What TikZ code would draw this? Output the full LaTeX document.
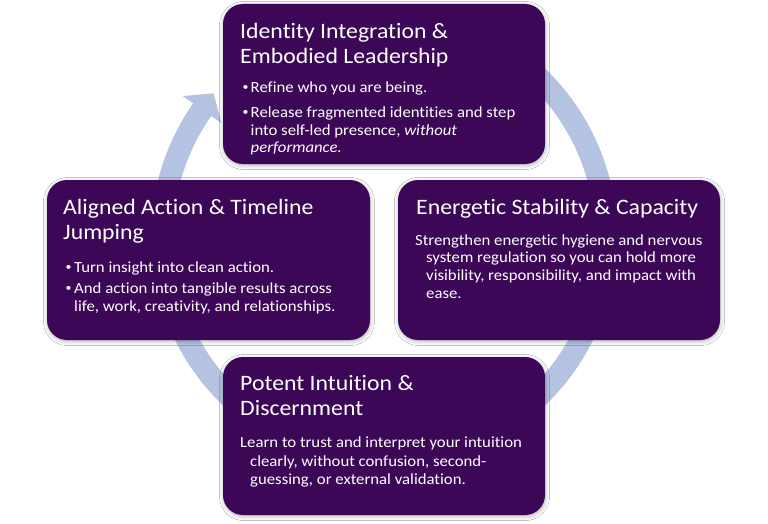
\documentclass[tikz,border=0pt]{standalone}
\usepackage{fontspec}
\setmainfont{Carlito}[Ligatures=NoCommon, FakeStretch=1.08]
\usetikzlibrary{arrows.meta,shadows.blur,calc}
\definecolor{boxpurple}{RGB}{61,7,87}
\definecolor{ringblue}{RGB}{181,195,226}
\begin{document}
\begin{tikzpicture}[x=1pt,y=1pt,
  box/.style={draw=none, fill=boxpurple, rounded corners=20pt, inner sep=0pt,
    blur shadow={shadow xshift=0.5pt, shadow yshift=-1.5pt, shadow blur radius=4pt, shadow opacity=30}},
  ttl/.style={anchor=base west, inner sep=0pt, text=white, font=\fontsize{22}{26}\selectfont},
  bdy/.style={anchor=base west, inner sep=0pt, text=white, font=\fontsize{15.5}{18}\selectfont},
  bul/.style={anchor=base west, inner sep=0pt, text=white, font=\fontsize{11}{12}\selectfont},
]
\useasboundingbox (0,0) rectangle (768,-524);
\fill[white] (0,0) rectangle (768,-524);
\coordinate (c) at (384,-237);
\draw[ringblue, line width=22pt, -{Triangle[length=20pt,width=46pt]}]
  ($(c)+(80:222pt)$) arc[start angle=80, end angle=-215, radius=222pt] -- ++(11.5,16.4);

\node[box, minimum width=322pt, minimum height=160pt] (top) at (384,-84) {};
\node[box, minimum width=322pt, minimum height=160pt] (right) at (559,-260) {};
\node[box, minimum width=323pt, minimum height=160pt] (left) at (208.5,-260) {};
\node[box, minimum width=322pt, minimum height=158pt] (bottom) at (384,-436) {};

% top box
\node[ttl] (t1) at (240,-39) {Identity Integration \&};
\node[ttl] (t2) at (240,-64) {Embodied Leadership};
\node[bul] (tb1) at (242.5,-91) {•};
\node[bdy] (tl1) at (250.5,-93) {Refine who you are being.};
\node[bul] (tb2) at (242.5,-116) {•};
\node[bdy] (tl2) at (250.5,-118) {Release fragmented identities and step};
\node[bdy] (tl3) at (250.5,-135.5) {into self-led presence, \textit{without}};
\node[bdy] (tl4) at (250.5,-153) {\textit{performance.}};

% right box
\node[ttl] (r1) at (416,-214) {Energetic Stability \& Capacity};
\node[bdy] (rl1) at (415,-245) {Strengthen energetic hygiene and nervous};
\node[bdy] (rl2) at (426,-262.7) {system regulation so you can hold more};
\node[bdy] (rl3) at (426,-280.5) {visibility, responsibility, and impact with};
\node[bdy] (rl4) at (426,-298.3) {ease.};

% left box
\node[ttl] (l1) at (63,-214) {Aligned Action \& Timeline};
\node[ttl] (l2) at (63,-239) {Jumping};
\node[bul] (lb1) at (65.5,-270) {•};
\node[bdy] (ll1) at (74,-272) {Turn insight into clean action.};
\node[bul] (lb2) at (65.5,-291.3) {•};
\node[bdy] (ll2) at (74,-293.3) {And action into tangible results across};
\node[bdy] (ll3) at (74,-311) {life, work, creativity, and relationships.};

% bottom box
\node[ttl] (b1) at (240,-390) {Potent Intuition \&};
\node[ttl] (b2) at (240,-415.5) {Discernment};
\node[bdy] (bl1) at (240,-447.5) {Learn to trust and interpret your intuition};
\node[bdy] (bl2) at (250,-466) {clearly, without confusion, second-};
\node[bdy] (bl3) at (250,-484) {guessing, or external validation.};
\end{tikzpicture}
\end{document}
